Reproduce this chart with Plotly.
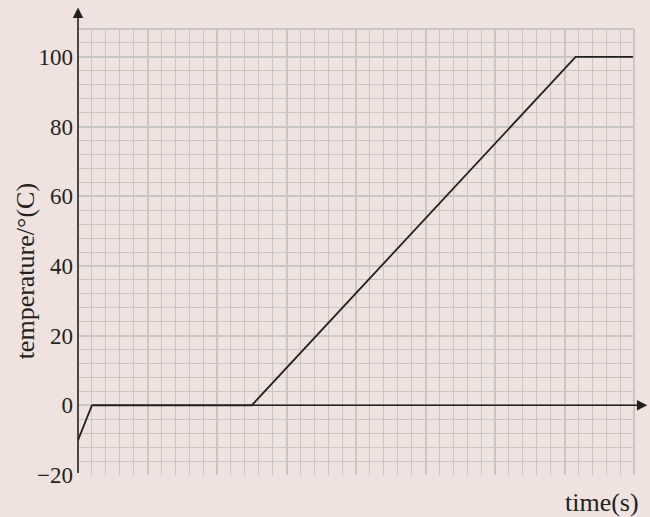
import plotly.graph_objects as go

# Heating curve: time (grid units) vs temperature (°C)
time_pts = [0, 1, 12.5, 35.8, 40]
temperature = [-10, 0, 0, 100, 100]

y_ticks = [-20, 0, 20, 40, 60, 80, 100]

BG = "#f0e3df"
GRID = "#c9c5c6"
INK = "#231f20"
SERIF = "Liberation Serif"

fig = go.Figure()
fig.add_trace(go.Scatter(
    x=time_pts, y=temperature, mode="lines",
    line=dict(color=INK, width=1.8), hoverinfo="skip", showlegend=False,
))

fig.update_layout(
    width=650, height=517,
    margin=dict(l=78, r=16, t=29, b=42),
    paper_bgcolor=BG, plot_bgcolor=BG,
    font=dict(family=SERIF, size=22, color=INK),
    xaxis=dict(
        range=[0, 40], dtick=5, tick0=0,
        showgrid=True, gridcolor=GRID, gridwidth=2,
        minor=dict(dtick=1, showgrid=True, gridcolor=GRID, gridwidth=1),
        showticklabels=False, ticks="", zeroline=False, showline=False,
        fixedrange=True,
    ),
    yaxis=dict(
        range=[-20, 108], tickvals=y_ticks, ticktext=[f"{v}".replace("-", "\u2212") for v in y_ticks],
        showgrid=True, gridcolor=GRID, gridwidth=2,
        minor=dict(tick0=0, dtick=4, showgrid=True, gridcolor=GRID, gridwidth=1),
        ticks="", zeroline=False, showline=False,
        tickfont=dict(family=SERIF, size=23, color=INK),
        ticklabelstandoff=4,
        fixedrange=True,
    ),
)

# Right and top edges of the grid paper
fig.add_shape(type="line", xref="x domain", yref="y domain", x0=1, x1=1, y0=0, y1=1,
              line=dict(color=GRID, width=2))
fig.add_shape(type="line", xref="x domain", yref="y domain", x0=0, x1=1, y0=1, y1=1,
              line=dict(color=GRID, width=2))

# Vertical axis with arrow
fig.add_annotation(
    xref="x domain", yref="y domain", x=0, y=1.048,
    axref="pixel", ayref="pixel", ax=0, ay=467,
    showarrow=True, arrowhead=2, arrowsize=1.3, arrowwidth=1.6, arrowcolor=INK, text="",
)
# Horizontal axis with arrow at temperature 0
fig.add_annotation(
    xref="x domain", yref="y", x=1.024, y=0,
    axref="pixel", ayref="pixel", ax=-556, ay=0,
    showarrow=True, arrowhead=2, arrowsize=1.3, arrowwidth=1.6, arrowcolor=INK, text="",
)

fig.add_annotation(
    xref="paper", yref="paper", x=-0.094, y=0.456, textangle=-90,
    text="temperature/°(C)", showarrow=False,
    font=dict(family=SERIF, size=26, color=INK),
    xanchor="center", yanchor="middle",
)
fig.add_annotation(
    xref="paper", yref="paper", x=1.012, y=-0.062,
    text="time(s)", showarrow=False,
    font=dict(family=SERIF, size=26, color=INK),
    xanchor="right", yanchor="middle",
)

fig.write_html("out.html")
